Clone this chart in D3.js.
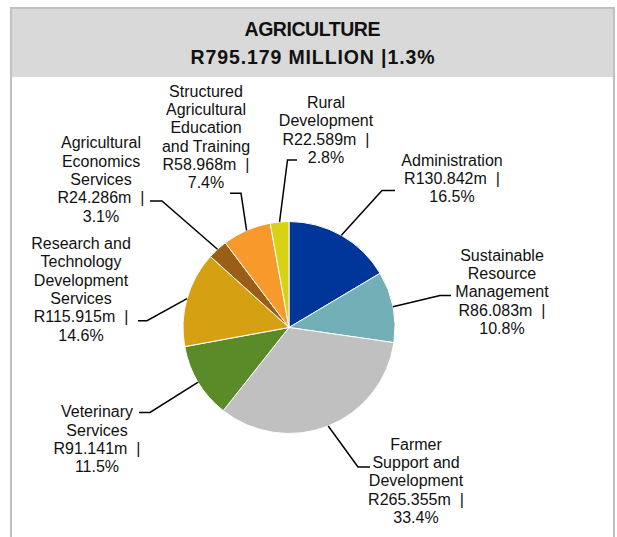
<!DOCTYPE html>
<html>
<head>
<meta charset="utf-8">
<script src="https://cdn.jsdelivr.net/npm/d3@7"></script>
<style>
  html, body { margin: 0; padding: 0; background: #fff; }
  svg { display: block; }
  .lbl { font-family: "Liberation Sans", Arial, sans-serif; font-size: 16px; fill: #111; }
  .ttl { font-family: "Liberation Sans", Arial, sans-serif; font-weight: bold; font-size: 19.5px; fill: #111; }
</style>
</head>
<body>
<svg id="chart" width="617" height="537"></svg>
<script>
// Programme budget allocations (R million), clockwise from 12 o'clock
const programmes = [
  "Administration",
  "Sustainable Resource Management",
  "Farmer Support and Development",
  "Veterinary Services",
  "Research and Technology Development Services",
  "Agricultural Economics Services",
  "Structured Agricultural Education and Training",
  "Rural Development"
];
const amounts = [130.842, 86.083, 265.355, 91.141, 115.915, 24.286, 58.968, 22.589];
const sliceColors = ["#00359a", "#72afb7", "#c0c0c0", "#5b8a29", "#d6a013", "#9a5e16", "#f8992c", "#d8d215"];

// How each programme name wraps in its label
const nameLines = [
  ["Administration"],
  ["Sustainable", "Resource", "Management"],
  ["Farmer", "Support and", "Development"],
  ["Veterinary", "Services"],
  ["Research and", "Technology", "Development", "Services"],
  ["Agricultural", "Economics", "Services"],
  ["Structured", "Agricultural", "Education", "and Training"],
  ["Rural", "Development"]
];

const titleLines = ["AGRICULTURE", "R795.179 MILLION |1.3%"];

// Label placement: text centre x, first line y, leader elbow and leader end
const labelLayout = [
  { cx: 452, y0: 160,   elbow: [382, 190.5], end: [395, 190.5] },
  { cx: 502, y0: 255,   elbow: [440, 295.5], end: [451, 295.5] },
  { cx: 416, y0: 444,   elbow: [358, 467],   end: [370, 467] },
  { cx: 97,  y0: 411.5, elbow: [150, 412.5], end: [139, 412.5] },
  { cx: 81,  y0: 243.3, elbow: [147, 320.7], end: [138, 320.7] },
  { cx: 101, y0: 142.7, elbow: [162, 201],   end: [150, 201] },
  { cx: 206, y0: 91,    elbow: [241, 193.3], end: [230, 193.3] },
  { cx: 326, y0: 102.3, elbow: [287.5, 160], end: [297, 160] }
];

const W = 617, H = 537;
const frame = { left: 11, right: 614, top: 8, headerBottom: 77 };
const pieCenter = [289, 327.5];
const radius = 106;
const lineGap = 18.3;

const svg = d3.select("#chart");

// frame and header band
svg.append("rect")
  .attr("x", frame.left).attr("y", frame.top)
  .attr("width", frame.right - frame.left).attr("height", frame.headerBottom - frame.top)
  .attr("fill", "#d9d9d9");
svg.append("path")
  .attr("d", `M${frame.left},${H} V${frame.top} H${frame.right} V${H}`)
  .attr("fill", "none").attr("stroke", "#c0c0c0").attr("stroke-width", 2);

const titleX = (frame.left + frame.right) / 2;
const titleWidths = [136, 244];
svg.selectAll("text.ttl").data(titleLines).join("text")
  .attr("class", "ttl")
  .attr("x", titleX)
  .attr("y", (d, i) => 35.5 + i * 28)
  .attr("text-anchor", "middle")
  .attr("textLength", (d, i) => titleWidths[i])
  .attr("lengthAdjust", "spacing")
  .text(d => d);

const total = d3.sum(amounts);
const records = programmes.map((name, i) => ({ name, value: amounts[i], color: sliceColors[i], lines: nameLines[i], layout: labelLayout[i] }));

const pie = d3.pie().sort(null).value(d => d.value);
const arcs = pie(records);
const arc = d3.arc().innerRadius(0).outerRadius(radius);

const g = svg.append("g").attr("transform", `translate(${pieCenter[0]},${pieCenter[1]})`);
g.selectAll("path.slice").data(arcs).join("path")
  .attr("class", "slice")
  .attr("d", arc)
  .attr("fill", d => d.data.color)
  .attr("stroke", "#fff")
  .attr("stroke-width", 1);

// leader lines from the rim at each slice's mid-angle
const rim = d3.arc().innerRadius(radius).outerRadius(radius);
svg.selectAll("path.leader").data(arcs).join("path")
  .attr("class", "leader")
  .attr("fill", "none")
  .attr("stroke", "#000")
  .attr("stroke-width", 1.5)
  .attr("d", d => {
    const [sx, sy] = rim.centroid(d);
    const L = d.data.layout;
    return `M${sx + pieCenter[0]},${sy + pieCenter[1]} L${L.elbow[0]},${L.elbow[1]} L${L.end[0]},${L.end[1]}`;
  });

const fmtPct = v => (v / total * 100).toFixed(1) + "%";
const labels = svg.selectAll("text.lbl").data(records).join("text")
  .attr("class", "lbl")
  .attr("text-anchor", "middle");
labels.each(function(d) {
  const lines = d.lines.concat(["R" + d.value.toFixed(3) + "m\u00a0 |", fmtPct(d.value)]);
  d3.select(this).selectAll("tspan").data(lines).join("tspan")
    .attr("x", d.layout.cx)
    .attr("y", (t, i) => d.layout.y0 + i * lineGap)
    .attr("dy", "0.36em")
    .text(t => t);
});
</script>
</body>
</html>
